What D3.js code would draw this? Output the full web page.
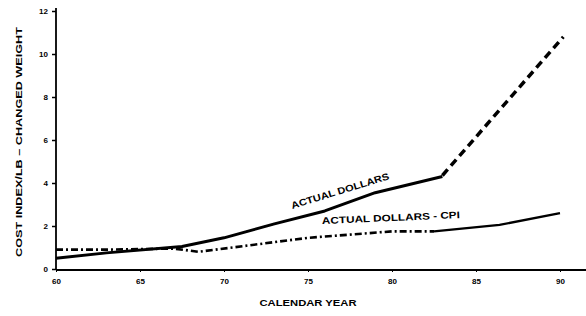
<!DOCTYPE html>
<html>
<head>
<meta charset="utf-8">
<script src="https://cdn.jsdelivr.net/npm/d3@7"></script>
<style>
  body { margin: 0; background: #fff; }
  svg { display: block; font-family: "Liberation Sans", Arial, sans-serif; font-weight: bold; }
</style>
</head>
<body>
<div id="chart"></div>
<script>
// Data
const actualYears = [60, 63, 67.5, 70, 73, 76, 79, 83];
const actualValues = [0.5, 0.75, 1.05, 1.45, 2.1, 2.7, 3.55, 4.3];
const projectedYears = [83, 90.2];
const projectedValues = [4.35, 10.8];
const cpiYears = [60, 63, 67, 68.5, 72, 75, 80, 82.5];
const cpiValues = [0.9, 0.9, 0.95, 0.8, 1.15, 1.45, 1.75, 1.75];
const cpiLateYears = [82.5, 86.4, 90];
const cpiLateValues = [1.75, 2.05, 2.6];
const xTicks = [60, 65, 70, 75, 80, 85, 90];
const yTicks = [0, 2, 4, 6, 8, 10, 12];

const width = 586;
const height = 316;

const svg = d3.select("#chart").append("svg")
  .attr("width", width)
  .attr("height", height);

const xScale = d3.scaleLinear().domain([60, 90]).range([56, 560]);
const yScale = d3.scaleLinear().domain([0, 12]).range([269, 11]);

const zip = (xs, ys) => xs.map((x, i) => ({ x, y: ys[i] }));
const line = d3.line().x((d) => xScale(d.x)).y((d) => yScale(d.y));

// Axes
const xAxis = svg.append("g")
  .attr("transform", `translate(0, 270)`)
  .call(d3.axisBottom(xScale).tickValues(xTicks).tickSize(2).tickPadding(6));
xAxis.select(".domain").attr("d", `M56,0H586`).attr("stroke-width", 1.8);
xAxis.selectAll("text").attr("font-size", 8).attr("font-weight", "bold");

const yAxis = svg.append("g")
  .attr("transform", `translate(56, 0)`)
  .call(d3.axisLeft(yScale).tickValues(yTicks).tickSize(4).tickPadding(4));
yAxis.select(".domain").attr("d", `M0,8V270`).attr("stroke-width", 1.8);
yAxis.selectAll("line").attr("stroke-width", 1.5);
yAxis.selectAll("text").attr("font-size", 8).attr("font-weight", "bold");

// Lines
svg.append("path")
  .datum(zip(actualYears, actualValues))
  .attr("d", line)
  .attr("fill", "none").attr("stroke", "#000").attr("stroke-width", 3)
  .attr("stroke-linejoin", "round");

svg.append("path")
  .datum(zip(projectedYears, projectedValues))
  .attr("d", line)
  .attr("fill", "none").attr("stroke", "#000").attr("stroke-width", 3.5)
  .attr("stroke-dasharray", "8,5");

svg.append("path")
  .datum(zip(cpiYears, cpiValues))
  .attr("d", line)
  .attr("fill", "none").attr("stroke", "#000").attr("stroke-width", 2.6)
  .attr("stroke-dasharray", "7,3,2,3");

svg.append("path")
  .datum(zip(cpiLateYears, cpiLateValues))
  .attr("d", line)
  .attr("fill", "none").attr("stroke", "#000").attr("stroke-width", 2.4);

// Line labels
svg.append("text")
  .attr("transform", "translate(341, 194) rotate(-17)")
  .attr("text-anchor", "middle")
  .attr("font-size", 9.5)
  .attr("textLength", 102).attr("lengthAdjust", "spacingAndGlyphs")
  .text("ACTUAL DOLLARS");

svg.append("text")
  .attr("transform", "translate(391, 221) rotate(-2.5)")
  .attr("text-anchor", "middle")
  .attr("font-size", 9.5)
  .attr("textLength", 138).attr("lengthAdjust", "spacingAndGlyphs")
  .text("ACTUAL DOLLARS - CPI");

// Axis titles
svg.append("text")
  .attr("x", 308).attr("y", 306)
  .attr("text-anchor", "middle")
  .attr("font-size", 9)
  .attr("textLength", 97).attr("lengthAdjust", "spacingAndGlyphs")
  .text("CALENDAR YEAR");

svg.append("text")
  .attr("transform", "translate(22, 142) rotate(-90)")
  .attr("text-anchor", "middle")
  .attr("font-size", 9)
  .attr("textLength", 230).attr("lengthAdjust", "spacingAndGlyphs")
  .text("COST INDEX/LB  \u2013  CHANGED WEIGHT");
</script>
</body>
</html>
